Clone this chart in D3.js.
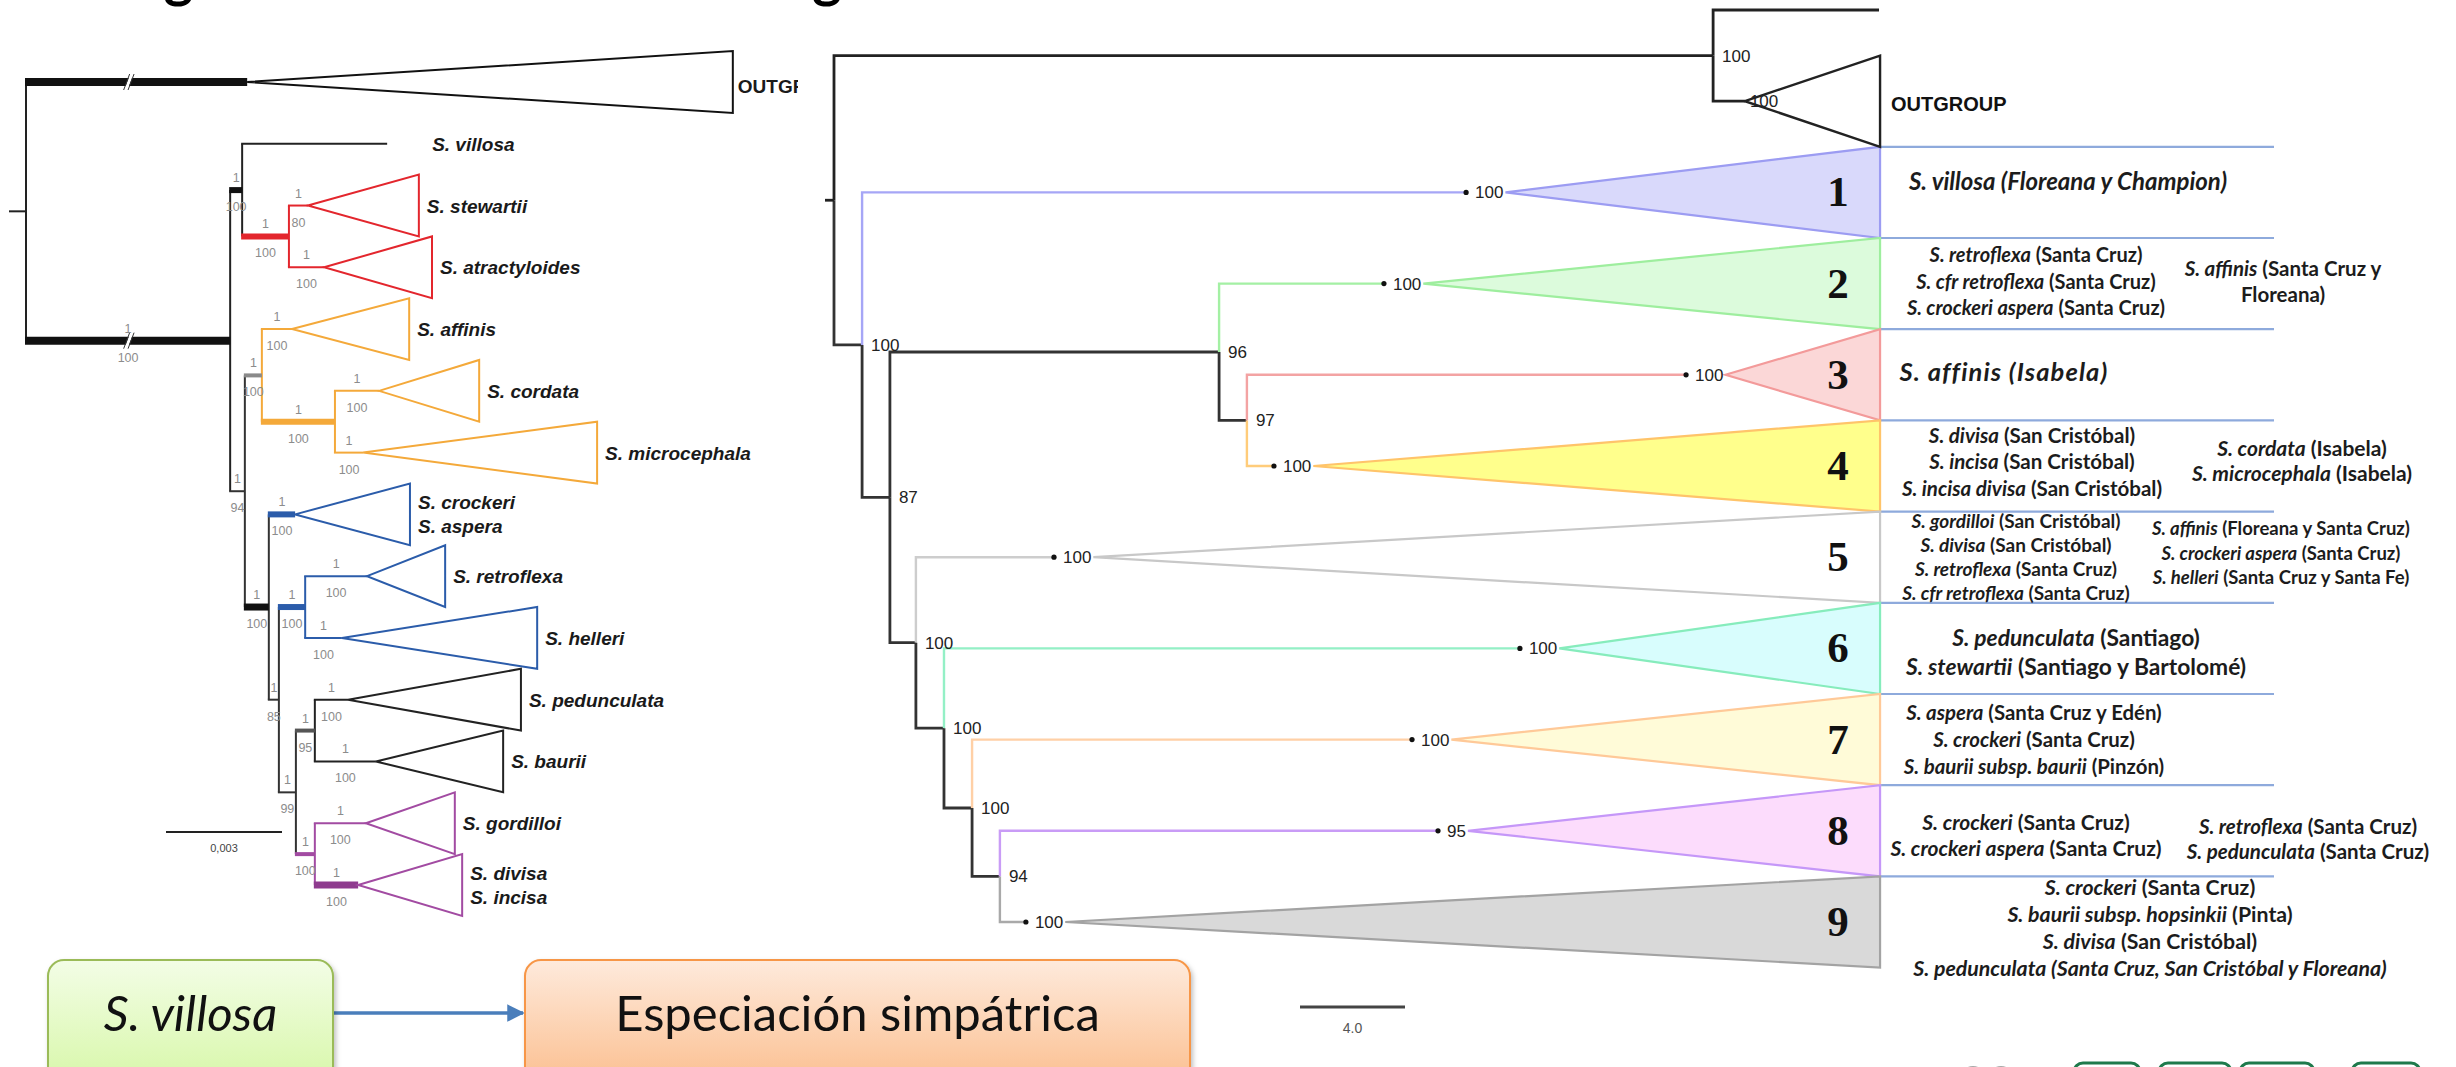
<!DOCTYPE html>
<html><head><meta charset="utf-8">
<script src="https://cdn.jsdelivr.net/npm/d3@7"></script>
<style>
html,body{margin:0;padding:0;background:#fff;}
svg{display:block;}
</style></head><body>
<svg id="fig" width="2456" height="1067"></svg>
<script>
// ---------------- Left tree: branch lengths in 10^-3 substitutions/site ----------------
// id, parent, depth, posterior probability, bootstrap
const leftNodes = [
  ["root", null, 0, null, null],
  ["outgroup", "root", 5.72, null, null],
  ["ingroup", "root", 5.28, "1", "100"],
  ["villRed", "ingroup", 5.59, "1", "100"],
  ["villosa", "villRed", 9.34, null, null],
  ["red", "villRed", 6.80, "1", "100"],
  ["stewartii", "red", 7.29, "1", "80"],
  ["atractyloides", "red", 7.71, "1", "100"],
  ["core", "ingroup", 5.66, "1", "94"],
  ["orange", "core", 6.10, "1", "100"],
  ["affinis", "orange", 6.88, "1", "100"],
  ["cordMicro", "orange", 7.99, "1", "100"],
  ["cordata", "cordMicro", 9.13, "1", "100"],
  ["microcephala", "cordMicro", 8.72, "1", "100"],
  ["rest", "core", 6.28, "1", "100"],
  ["crockeri", "rest", 6.96, "1", "100"],
  ["rest2", "rest", 6.54, "1", "85"],
  ["blue", "rest2", 7.22, "1", "100"],
  ["retroflexa", "blue", 8.82, "1", "100"],
  ["helleri", "blue", 8.17, "1", "100"],
  ["rest3", "rest2", 6.98, "1", "99"],
  ["black", "rest3", 7.47, "1", "95"],
  ["pedunculata", "black", 8.33, "1", "100"],
  ["baurii", "black", 9.05, "1", "100"],
  ["purple", "rest3", 7.47, "1", "100"],
  ["gordilloi", "purple", 8.79, "1", "100"],
  ["divInc", "purple", 8.59, "1", "100"]
];
// tips of the left tree: id, label lines, farthest tip depth of the collapsed clade
const leftTips = [
  ["outgroup", ["OUTGROUP"], 18.28],
  ["villosa", ["S. villosa"], null],
  ["stewartii", ["S. stewartii"], 10.16],
  ["atractyloides", ["S. atractyloides"], 10.50],
  ["affinis", ["S. affinis"], 9.91],
  ["cordata", ["S. cordata"], 11.72],
  ["microcephala", ["S. microcephala"], 14.77],
  ["crockeri", ["S. crockeri", "S. aspera"], 9.93],
  ["retroflexa", ["S. retroflexa"], 10.84],
  ["helleri", ["S. helleri"], 13.22],
  ["pedunculata", ["S. pedunculata"], 12.80],
  ["baurii", ["S. baurii"], 12.34],
  ["gordilloi", ["S. gordilloi"], 11.09],
  ["divInc", ["S. divisa", "S. incisa"], 11.28]
];
const leftBrokenBranches = ["outgroup", "ingroup"];
const leftBreakDepth = 2.66;
const leftScaleBar = { value: 3, label: "0,003" };

// ---------------- Right tree: branch lengths in units of the 4.0 scale bar ----------------
// id, parent, depth, support
const rightNodes = [
  ["root", null, 0, null],
  ["outNode", "root", 33.49, "100"],
  ["outA", "outNode", 39.81, null],
  ["outB", "outNode", 34.70, "100"],
  ["in", "root", 1.07, "100"],
  ["c1", "in", 24.08, "100"],
  ["j", "in", 2.13, "87"],
  ["k", "j", 14.67, "96"],
  ["c2", "k", 20.95, "100"],
  ["l", "k", 15.73, "97"],
  ["c3", "l", 32.46, "100"],
  ["c4", "l", 16.76, "100"],
  ["n", "j", 3.12, "100"],
  ["c5", "n", 8.38, "100"],
  ["o", "n", 4.19, "100"],
  ["c6", "o", 26.13, "100"],
  ["p", "o", 5.26, "100"],
  ["c7", "p", 22.02, "100"],
  ["q", "p", 6.32, "94"],
  ["c8", "q", 23.01, "95"],
  ["c9", "q", 7.31, "100"]
];
const rightTipDepth = 39.85;
const cladeIds = ["c1", "c2", "c3", "c4", "c5", "c6", "c7", "c8", "c9"];
const cladeNumbers = ["1", "2", "3", "4", "5", "6", "7", "8", "9"];
const rightScaleBar = { value: 4, label: "4.0" };

// taxa per clade: blocks of lines, each line = [italic part, upright part]
const cladeTaxa = [
  [[["S. villosa (Floreana y Champion)", ""]]],
  [[["S. retroflexa", " (Santa Cruz)"], ["S. cfr retroflexa", " (Santa Cruz)"], ["S. crockeri aspera", " (Santa Cruz)"]],
   [["S. affinis", " (Santa Cruz y"], ["", "Floreana)"]]],
  [[["S. affinis (Isabela)", ""]]],
  [[["S. divisa", " (San Cristóbal)"], ["S. incisa", " (San Cristóbal)"], ["S. incisa divisa", " (San Cristóbal)"]],
   [["S. cordata", " (Isabela)"], ["S. microcephala", " (Isabela)"]]],
  [[["S. gordilloi", " (San Cristóbal)"], ["S. divisa", " (San Cristóbal)"], ["S. retroflexa", " (Santa Cruz)"], ["S. cfr retroflexa", " (Santa Cruz)"]],
   [["S. affinis", " (Floreana y Santa Cruz)"], ["S. crockeri aspera", " (Santa Cruz)"], ["S. helleri", " (Santa Cruz y Santa Fe)"]]],
  [[["S. pedunculata", " (Santiago)"], ["S. stewartii", " (Santiago y Bartolomé)"]]],
  [[["S. aspera", " (Santa Cruz y Edén)"], ["S. crockeri", " (Santa Cruz)"], ["S. baurii subsp. baurii", " (Pinzón)"]]],
  [[["S. crockeri", " (Santa Cruz)"], ["S. crockeri aspera", " (Santa Cruz)"]],
   [["S. retroflexa", " (Santa Cruz)"], ["S. pedunculata", " (Santa Cruz)"]]],
  [[["S. crockeri", " (Santa Cruz)"], ["S. baurii subsp. hopsinkii", " (Pinta)"], ["S. divisa", " (San Cristóbal)"], ["S. pedunculata (Santa Cruz, San Cristóbal y Floreana)", ""]]]
];

const flowBoxes = [
  { text: "S. villosa", italic: true },
  { text: "Especiación simpátrica", italic: false }
];
// slide heading, cropped by the top edge of the page
const headingWords = ["Filogenia", "origen"];

// ---------------- styles & layout ----------------
const leftStyle = {
  // branch colour, vertical colour, branch width
  outgroup: ["#111", null, 8], ingroup: ["#111", "#222", 8], villRed: ["#111", "#222", 6],
  villosa: ["#222", null, 2], red: ["#e3262d", "#e3262d", 6], stewartii: ["#e3262d", null, 2],
  atractyloides: ["#e3262d", null, 2], core: ["#333", "#333", 2], orange: ["#8a8a8a", "#f4a93a", 4],
  affinis: ["#f4a93a", null, 2], cordMicro: ["#f4a93a", "#f4a93a", 6], cordata: ["#f4a93a", null, 2],
  microcephala: ["#f4a93a", null, 2], rest: ["#111", "#333", 7], crockeri: ["#2b5caa", null, 6],
  rest2: ["#333", "#333", 2], blue: ["#2b5caa", "#2b5caa", 6], retroflexa: ["#2b5caa", null, 2],
  helleri: ["#2b5caa", null, 2], rest3: ["#333", "#333", 2], black: ["#555", "#222", 4],
  pedunculata: ["#222", null, 2], baurii: ["#222", null, 2], purple: ["#a24ba2", "#a24ba2", 4],
  gordilloi: ["#a24ba2", null, 2], divInc: ["#8e3b8e", null, 7], root: ["#222", "#222", 2]
};
const leftTriColour = { outgroup: "#111", divInc: "#a24ba2" };
const rightBranchColour = {
  root: "#222", outNode: "#222", outA: "#222", outB: "#222", in: "#333", j: "#333", k: "#333",
  l: "#333", n: "#333", o: "#333", p: "#333", q: "#333",
  c1: "#a6a6f6", c2: "#a4f0a4", c3: "#f3a3a3", c4: "#ffcc7a", c5: "#cdcdcd",
  c6: "#94f0c6", c7: "#ffd0a6", c8: "#c99cf6", c9: "#a9a9a9"
};
const cladeFill = ["#d9d9fb", "#dcfbdc", "#fbd7d7", "#ffff8c", "#ffffff", "#d8fdfd", "#fffbd8", "#fcdcfc", "#d9d9d9"];
const cladeStroke = ["#9c9cf2", "#9eee9e", "#f39a9a", "#ffc46a", "#c8c8c8", "#86ecbc", "#ffc998", "#c597f8", "#a3a3a3"];
// text block layout: [centre x, dy from band centre, font size, line height, letter spacing]
const blockLayout = [
  [[2068, -11, 24, 0, 0]],
  [[2036, -2, 20, 26.5, 0], [2283, -2, 20.5, 26, 0]],
  [[2004, -3, 25.5, 0, 1.1]],
  [[2032, -4, 20.5, 26.5, 0], [2302, -4.5, 21, 25, 0]],
  [[2016, 0, 19, 24, 0], [2281, -4, 18.5, 24.5, 0]],
  [[2076, 4, 22.8, 29, 0]],
  [[2034, 0, 20.4, 27, 0]],
  [[2026, 5, 21, 26, 0], [2308, 8.5, 20.5, 25, 0]],
  [[2150, 6, 21.3, 26.7, 0]]
];

const svg = d3.select("#fig");
const xL = d3.scaleLinear().domain([0, 3]).range([26, 142]);
const yL = d3.scaleLinear().domain([0, 13]).range([82, 885]);
const xR = d3.scaleLinear().domain([0, 4]).range([834, 939]);
const yR = d3.scaleLinear().domain([0, 10]).range([10, 922]);

function buildTree(rows, xs, ys) {
  const root = d3.stratify().id(d => d[0]).parentId(d => d[1])(rows);
  root.leaves().forEach((n, i) => { n.py = ys(i); });
  root.eachAfter(n => {
    if (n.children) n.py = (n.children[0].py + n.children[n.children.length - 1].py) / 2;
  });
  root.each(n => { n.px = xs(n.data[2]); });
  return root;
}

const defs = svg.append("defs");
defs.append("clipPath").attr("id", "leftClip").append("rect")
  .attr("x", 0).attr("y", 0).attr("width", 798).attr("height", 1067);

// heading (only the descenders reach into the page)
[[72, headingWords[0]], [745, headingWords[1]]].forEach(([x, w]) => {
  svg.append("text").attr("x", x).attr("y", -3)
    .attr("font-family", "Lato, sans-serif").attr("font-weight", "bold")
    .attr("font-size", 56).attr("fill", "#000").text(w);
});

// ================= LEFT TREE =================
const L = buildTree(leftNodes, xL, yL);
const gL = svg.append("g").attr("clip-path", "url(#leftClip)");
const stepL = yL(1) - yL(0);
const lNodes = L.descendants();
const supFont = "'Liberation Sans', Arial, sans-serif";

// verticals
lNodes.filter(n => n.children).forEach(n => {
  const st = leftStyle[n.id];
  gL.append("line")
    .attr("x1", n.px).attr("x2", n.px)
    .attr("y1", n.children[0].py).attr("y2", n.children[n.children.length - 1].py)
    .attr("stroke", st[1]).attr("stroke-width", 2);
});
// root stub
gL.append("line").attr("x1", L.px - 17).attr("x2", L.px).attr("y1", L.py).attr("y2", L.py)
  .attr("stroke", "#222").attr("stroke-width", 2);

// horizontal branches
lNodes.filter(n => n.parent).forEach(n => {
  const st = leftStyle[n.id];
  gL.append("line")
    .attr("x1", n.parent.px - 1).attr("x2", n.px)
    .attr("y1", n.py).attr("y2", n.py)
    .attr("stroke", st[0]).attr("stroke-width", st[2]);
});

// break marks on the shortened branches
leftBrokenBranches.forEach(id => {
  const n = L.find(d => d.id === id);
  const bx = xL(leftBreakDepth), by = n.py;
  gL.append("line").attr("x1", bx - 3).attr("y1", by + 8).attr("x2", bx + 3).attr("y2", by - 8)
    .attr("stroke", "#fff").attr("stroke-width", 3);
  [-2.2, 2.2].forEach(o => {
    gL.append("line").attr("x1", bx - 3 + o).attr("y1", by + 8).attr("x2", bx + 3 + o).attr("y2", by - 8)
      .attr("stroke", "#333").attr("stroke-width", 1);
  });
});

// collapsed clades and tip labels
leftTips.forEach(t => {
  const n = L.find(d => d.id === t[0]);
  const col = leftTriColour[t[0]] || leftStyle[t[0]][0];
  const isOut = t[0] === "outgroup";
  let labelX;
  if (t[2] != null) {
    const xt = xL(t[2]);
    gL.append("path")
      .attr("d", `M${n.px},${n.py}L${xt},${n.py - stepL / 2}L${xt},${n.py + stepL / 2}Z`)
      .attr("fill", "none").attr("stroke", col).attr("stroke-width", 2).attr("stroke-linejoin", "miter");
    labelX = xt + (isOut ? 5 : 8);
  } else {
    labelX = n.px + 45;
  }
  const txt = gL.append("text")
    .attr("x", labelX).attr("y", n.py)
    .attr("font-family", supFont)
    .attr("font-weight", "bold").attr("font-style", isOut ? "normal" : "italic")
    .attr("font-size", 19).attr("fill", "#1a1a1a");
  const nl = t[1].length;
  t[1].forEach((s, i) => {
    txt.append("tspan").attr("x", labelX)
      .attr("y", n.py + (i - (nl - 1) / 2) * 24 + (isOut ? 11 : 7)).text(s);
  });
});

// support values: posterior probability above, bootstrap below
lNodes.filter(n => n.parent && n.data[3] != null).forEach(n => {
  const mx = (n.parent.px + n.px) / 2;
  gL.append("text").attr("x", mx).attr("y", n.py - 8).attr("text-anchor", "middle")
    .attr("font-family", supFont).attr("font-size", 12.5)
    .attr("fill", "#8c8c8c").text(n.data[3]);
  gL.append("text").attr("x", mx).attr("y", n.py + 21).attr("text-anchor", "middle")
    .attr("font-family", supFont).attr("font-size", 12.5)
    .attr("fill", "#8c8c8c").text(n.data[4]);
});

// scale bar
{
  const x0 = 166, y0 = 832;
  const x1 = x0 + (xL(leftScaleBar.value) - xL(0));
  gL.append("line").attr("x1", x0).attr("x2", x1).attr("y1", y0).attr("y2", y0)
    .attr("stroke", "#222").attr("stroke-width", 2);
  gL.append("text").attr("x", (x0 + x1) / 2).attr("y", y0 + 20).attr("text-anchor", "middle")
    .attr("font-family", "'Liberation Sans Narrow','Liberation Sans', sans-serif").attr("font-size", 11)
    .attr("fill", "#444").text(leftScaleBar.label);
}

// ================= RIGHT TREE =================
const R = buildTree(rightNodes, xR, yR);
const gR = svg.append("g");
const stepR = yR(1) - yR(0);
const rNodes = R.descendants();
const numFont = "'Liberation Sans', Arial, sans-serif";
const numSize = 17;

// separators between the clade bands
d3.range(1, 10).forEach(i => {
  gR.append("line").attr("x1", xR(rightTipDepth)).attr("x2", 2274)
    .attr("y1", yR(i) + stepR / 2).attr("y2", yR(i) + stepR / 2)
    .attr("stroke", "#8eaadc").attr("stroke-width", 2.2);
});

// elbow branches
rNodes.filter(n => n.parent).forEach(n => {
  const col = rightBranchColour[n.id];
  const isClade = n.id.startsWith("c");
  gR.append("path")
    .attr("d", `M${n.parent.px},${n.parent.py}V${n.py}H${n.px}`)
    .attr("fill", "none").attr("stroke", col)
    .attr("stroke-width", isClade ? 2.4 : 2.8);
});
gR.append("line").attr("x1", R.px - 9).attr("x2", R.px).attr("y1", R.py).attr("y2", R.py)
  .attr("stroke", "#222").attr("stroke-width", 2.8);

// collapsed ingroup clades
cladeIds.forEach((id, i) => {
  const n = R.find(d => d.id === id);
  const lab = gR.append("text").attr("x", n.px + 9).attr("y", n.py + 6)
    .attr("font-family", numFont).attr("font-size", numSize).attr("fill", "#222").text(n.data[3]);
  const apex = n.px + 9 + lab.node().getComputedTextLength() + 2;
  const xt = xR(rightTipDepth);
  gR.insert("path", "text")
    .attr("d", `M${apex},${n.py}L${xt},${n.py - stepR / 2}L${xt},${n.py + stepR / 2}Z`)
    .attr("fill", cladeFill[i]).attr("stroke", cladeStroke[i]).attr("stroke-width", 2.2);
  gR.append("circle").attr("cx", n.px).attr("cy", n.py).attr("r", 2.6).attr("fill", "#111");
  gR.append("text").attr("x", 1838).attr("y", n.py + 14).attr("text-anchor", "middle")
    .attr("font-family", "'Liberation Serif','Times New Roman', serif").attr("font-weight", "bold")
    .attr("font-size", 43).attr("fill", "#111").text(cladeNumbers[i]);
});

// collapsed outgroup
{
  const n = R.find(d => d.id === "outB");
  const xt = xR(rightTipDepth);
  gR.append("path")
    .attr("d", `M${n.px},${n.py}L${xt},${n.py - stepR / 2}L${xt},${n.py + stepR / 2}Z`)
    .attr("fill", "none").attr("stroke", "#222").attr("stroke-width", 2.4);
  gR.append("text").attr("x", n.px + 5).attr("y", n.py + 6)
    .attr("font-family", numFont).attr("font-size", numSize).attr("fill", "#222").text(n.data[3]);
  gR.append("text").attr("x", xt + 11).attr("y", n.py + 10)
    .attr("font-family", "'Liberation Sans', Arial, sans-serif").attr("font-weight", "bold")
    .attr("font-size", 20).attr("fill", "#111").text("OUTGROUP");
}

// internal node support
rNodes.filter(n => n.children && n.data[3] != null).forEach(n => {
  gR.append("text").attr("x", n.px + 9).attr("y", n.py + 6)
    .attr("font-family", numFont).attr("font-size", numSize).attr("fill", "#222").text(n.data[3]);
});

// scale bar
{
  const x0 = 1300, y0 = 1007;
  const x1 = x0 + (xR(rightScaleBar.value) - xR(0));
  gR.append("line").attr("x1", x0).attr("x2", x1).attr("y1", y0).attr("y2", y0)
    .attr("stroke", "#444").attr("stroke-width", 3);
  gR.append("text").attr("x", (x0 + x1) / 2).attr("y", y0 + 26).attr("text-anchor", "middle")
    .attr("font-family", "'Liberation Sans Narrow','Liberation Sans', sans-serif").attr("font-size", 14)
    .attr("fill", "#555").text(rightScaleBar.label);
}

// taxon lists per clade
cladeTaxa.forEach((blocks, ci) => {
  const band = yR(ci + 2);
  blocks.forEach((lines, bi) => {
    const [cx, dy, fs, lh, ls] = blockLayout[ci][bi];
    lines.forEach((ln, li) => {
      const y = band + dy + (li - (lines.length - 1) / 2) * lh;
      const t = gR.append("text").attr("x", cx).attr("y", y).attr("dy", "0.35em")
        .attr("text-anchor", "middle").attr("letter-spacing", ls)
        .attr("font-family", "Lato, 'Open Sans', sans-serif").attr("font-weight", "bold")
        .attr("font-size", fs).attr("fill", "#1c1c1c");
      if (ln[0]) t.append("tspan").attr("font-style", "italic").text(ln[0]);
      if (ln[1]) t.append("tspan").text(ln[1]);
    });
  });
});

// bottom-right emblem strip
[1973, 2001].forEach(cx => {
  svg.append("circle").attr("cx", cx).attr("cy", 1079).attr("r", 12)
    .attr("fill", "none").attr("stroke", "#a8a8a8").attr("stroke-width", 2);
});
[[2074, 66], [2159, 72], [2240, 74], [2352, 68]].forEach(([x, w]) => {
  svg.append("rect").attr("x", x).attr("y", 1063).attr("width", w).attr("height", 24).attr("rx", 9)
    .attr("fill", "#fff").attr("stroke", "#1f7a4c").attr("stroke-width", 3);
});

// ================= FLOW BOXES =================
const gradA = defs.append("linearGradient").attr("id", "gGreen").attr("x1", 0).attr("y1", 0).attr("x2", 0).attr("y2", 1);
gradA.append("stop").attr("offset", "0%").attr("stop-color", "#f3fde6");
gradA.append("stop").attr("offset", "100%").attr("stop-color", "#d6f7a6");
const gradB = defs.append("linearGradient").attr("id", "gOrange").attr("x1", 0).attr("y1", 0).attr("x2", 0).attr("y2", 1);
gradB.append("stop").attr("offset", "0%").attr("stop-color", "#feeadc");
gradB.append("stop").attr("offset", "100%").attr("stop-color", "#fbbd8c");
const sh = defs.append("filter").attr("id", "shadow").attr("x", "-10%").attr("y", "-10%").attr("width", "130%").attr("height", "130%");
sh.append("feDropShadow").attr("dx", 2).attr("dy", 3).attr("stdDeviation", 2.5).attr("flood-color", "#000").attr("flood-opacity", 0.25);
defs.append("marker").attr("id", "arrow").attr("viewBox", "0 0 10 10").attr("refX", 9).attr("refY", 5)
  .attr("markerWidth", 5).attr("markerHeight", 5).attr("orient", "auto")
  .append("path").attr("d", "M0,0L10,5L0,10Z").attr("fill", "#4a7ebb");

const boxGeom = [
  { x: 48, w: 285, fill: "url(#gGreen)", stroke: "#9bbb59" },
  { x: 525, w: 665, fill: "url(#gOrange)", stroke: "#f79646" }
];
const boxY = 960, boxH = 130;
svg.append("line").attr("x1", 334).attr("x2", 523).attr("y1", 1013).attr("y2", 1013)
  .attr("stroke", "#4a7ebb").attr("stroke-width", 3.5).attr("marker-end", "url(#arrow)");
flowBoxes.forEach((b, i) => {
  const g = boxGeom[i];
  svg.append("rect").attr("x", g.x).attr("y", boxY).attr("width", g.w).attr("height", boxH)
    .attr("rx", 16).attr("fill", g.fill).attr("stroke", g.stroke).attr("stroke-width", 2)
    .attr("filter", "url(#shadow)");
  svg.append("text").attr("x", g.x + g.w / 2).attr("y", 1013).attr("dy", "0.36em")
    .attr("text-anchor", "middle").attr("font-family", "Lato, 'Open Sans', sans-serif")
    .attr("font-size", 49).attr("font-style", b.italic ? "italic" : "normal")
    .attr("fill", "#111").text(b.text);
});
</script>
</body></html>
